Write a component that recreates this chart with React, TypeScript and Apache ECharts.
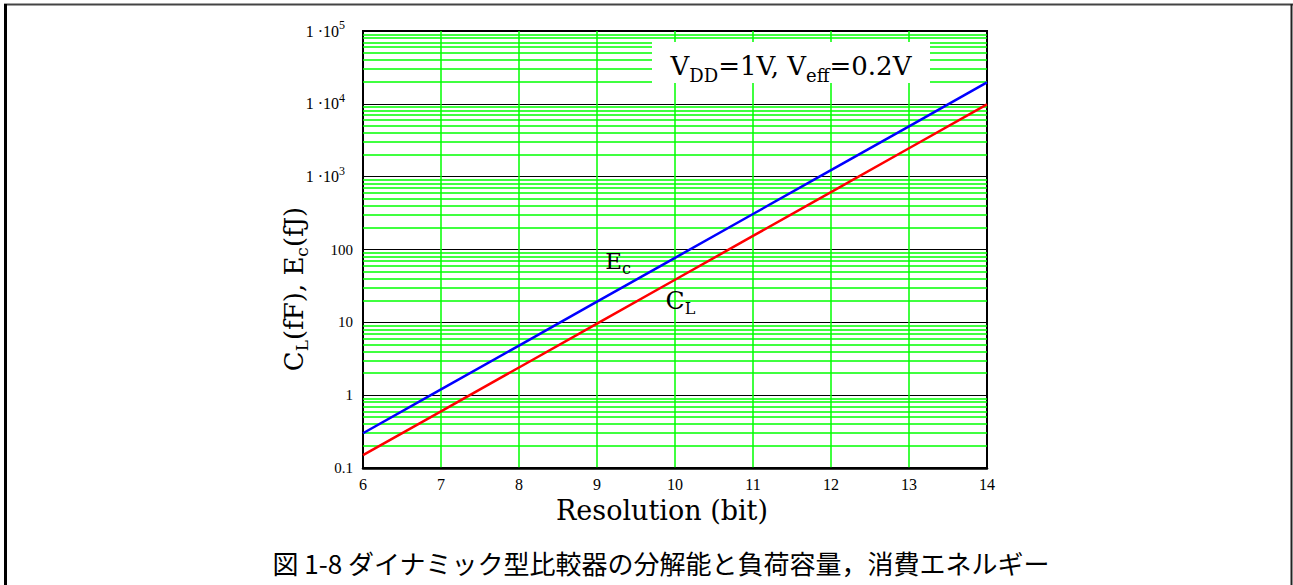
import React, { useEffect, useRef } from 'react';
import * as echarts from 'echarts';

// Resolution of the comparator in bits
const bits = [6, 7, 8, 9, 10, 11, 12, 13, 14];
// Load capacitance C_L (fF)
const loadCapacitance = [0.15, 0.6, 2.4, 9.6, 38.4, 153.6, 614.4, 2457.6, 9830.4];
// Energy per comparison E_c (fJ)
const comparatorEnergy = [0.3, 1.2, 4.8, 19.2, 76.8, 307.2, 1228.8, 4915.2, 19660.8];

// Decade tick labels of the logarithmic y axis
const decadeExponents = [-1, 0, 1, 2, 3, 4, 5];
const decadeLabels = ['0.1', '1', '10', '100', '{b|1 ·10}{sup|3}', '{b|1 ·10}{sup|4}', '{b|1 ·10}{sup|5}'];

// Minor grid values 2..9 inside each decade
const minorMultipliers = [2, 3, 4, 5, 6, 7, 8, 9];
const minorGridValues: number[] = [];
for (let e = -1; e <= 4; e++) {
  for (const m of minorMultipliers) minorGridValues.push(m * Math.pow(10, e));
}

// Positions of the curve name labels (data coordinates)
const energyLabelAt = [9.27, 70];
const capLabelAt = [10.07, 20];

const SERIF = '"DejaVu Serif", serif';
const TIMES = '"Liberation Serif", "Times New Roman", serif';
const GREEN = '#00ff00';

export default function App() {
  const ref = useRef<HTMLDivElement>(null);

  useEffect(() => {
    document.body.style.margin = '0';
    const chart = echarts.init(ref.current!, null, { renderer: 'svg' });

    const option: any = {
      animation: false,
      backgroundColor: '#fff',
      grid: {
        left: 363,
        top: 31,
        right: 306,
        bottom: 117,
        show: true,
        borderColor: '#000',
        borderWidth: 2,
        backgroundColor: 'transparent',
      },
      xAxis: {
        type: 'value',
        min: 6,
        max: 14,
        interval: 1,
        axisLine: { show: true, lineStyle: { color: '#000', width: 2.5 } },
        axisTick: { show: false },
        axisLabel: { color: '#000', fontFamily: TIMES, fontSize: 16, margin: 8 },
        splitLine: {
          show: true,
          showMinLine: false,
          showMaxLine: false,
          lineStyle: { color: GREEN, width: 1.5 },
        },
      },
      yAxis: {
        type: 'log',
        logBase: 10,
        min: 0.1,
        max: 100000,
        splitNumber: 6,
        axisLine: { show: true, lineStyle: { color: '#000', width: 2 } },
        axisTick: { show: false },
        minorTick: { show: false },
        axisLabel: {
          color: '#000',
          fontFamily: TIMES,
          fontSize: 15,
          margin: 10,
          formatter: (v: number) => {
            const e = Math.round(Math.log10(v));
            const i = decadeExponents.indexOf(e);
            return i >= 0 ? decadeLabels[i] : '';
          },
          rich: {
            b: { fontFamily: TIMES, fontSize: 16, color: '#000' },
            sup: { fontFamily: TIMES, fontSize: 12, color: '#000', padding: [0, 8, 12, 0] },
          },
        },
        splitLine: { show: true, lineStyle: { color: '#000', width: 1.2 } },
      },
      series: [
        {
          // minor horizontal grid
          type: 'line',
          data: [],
          silent: true,
          z: 1,
          markLine: {
            silent: true,
            symbol: ['none', 'none'],
            label: { show: false },
            lineStyle: { color: GREEN, width: 1.5, type: 'solid' },
            data: minorGridValues.map((v) => ({ yAxis: v })),
            z: 1,
          },
        },
        {
          name: 'Ec',
          type: 'line',
          showSymbol: false,
          z: 5,
          lineStyle: { color: '#0000ff', width: 2.5 },
          itemStyle: { color: '#0000ff' },
          data: bits.map((b, i) => [b, comparatorEnergy[i]]),
          markPoint: {
            symbol: 'circle',
            symbolSize: 0,
            label: {
              show: true,
              position: 'inside',
              formatter: '{m|E}{s|c}',
              rich: {
                m: { fontFamily: SERIF, fontSize: 23, color: '#000' },
                s: { fontFamily: SERIF, fontSize: 16, color: '#000', padding: [16, 0, 0, 0] },
              },
            },
            data: [{ coord: energyLabelAt }],
          },
        },
        {
          name: 'CL',
          type: 'line',
          showSymbol: false,
          z: 5,
          lineStyle: { color: '#ff0000', width: 2.5 },
          itemStyle: { color: '#ff0000' },
          data: bits.map((b, i) => [b, loadCapacitance[i]]),
          markPoint: {
            symbol: 'circle',
            symbolSize: 0,
            label: {
              show: true,
              position: 'inside',
              formatter: '{m|C}{s|L}',
              rich: {
                m: { fontFamily: SERIF, fontSize: 25, color: '#000' },
                s: { fontFamily: SERIF, fontSize: 16, color: '#000', padding: [16, 0, 0, 0] },
              },
            },
            data: [{ coord: capLabelAt }],
          },
        },
      ],
      graphic: [
        // page frame
        { type: 'line', shape: { x1: 4, y1: 4.5, x2: 1293, y2: 4.5 }, style: { stroke: '#444', lineWidth: 2 }, z: 20 },
        { type: 'line', shape: { x1: 5.5, y1: 4, x2: 5.5, y2: 585 }, style: { stroke: '#000', lineWidth: 3 }, z: 20 },
        { type: 'line', shape: { x1: 1291.5, y1: 4, x2: 1291.5, y2: 585 }, style: { stroke: '#222', lineWidth: 2 }, z: 20 },
        // condition box
        { type: 'rect', shape: { x: 652, y: 42, width: 278, height: 41 }, style: { fill: '#fff' }, z: 30 },
        {
          type: 'text',
          x: 791,
          y: 66,
          z: 31,
          style: {
            text: '{m|V}{s|DD}{m|=1V, V}{s|eff}{m|=0.2V}',
            align: 'center',
            verticalAlign: 'middle',
            rich: {
              m: { font: '26px ' + SERIF, fill: '#000' },
              s: { font: '18px ' + SERIF, fill: '#000', padding: [18, 0, 0, 0] },
            },
          },
        },
        // y axis title
        {
          type: 'text',
          x: 294,
          y: 289,
          rotation: Math.PI / 2,
          z: 31,
          style: {
            text: '{m|C}{s|L}{m|(fF), E}{s|c}{m|(fJ)}',
            align: 'center',
            verticalAlign: 'middle',
            rich: {
              m: { font: '26px ' + SERIF, fill: '#000' },
              s: { font: '17px ' + SERIF, fill: '#000', padding: [16, 0, 0, 0] },
            },
          },
        },
        // x axis title
        {
          type: 'text',
          x: 662,
          y: 510,
          z: 31,
          style: {
            text: 'Resolution (bit)',
            align: 'center',
            verticalAlign: 'middle',
            font: '27px ' + SERIF,
            fill: '#000',
          },
        },
        // caption
        {
          type: 'text',
          x: 661,
          y: 562,
          z: 31,
          style: {
            text: '図 1-8 ダイナミック型比較器の分解能と負荷容量，消費エネルギー',
            align: 'center',
            verticalAlign: 'middle',
            font: '26px "Noto Sans CJK JP", sans-serif',
            fill: '#000',
          },
        },
      ],
    };

    chart.setOption(option);
    return () => chart.dispose();
  }, []);

  return <div ref={ref} style={{ width: 1293, height: 585 }} />;
}
